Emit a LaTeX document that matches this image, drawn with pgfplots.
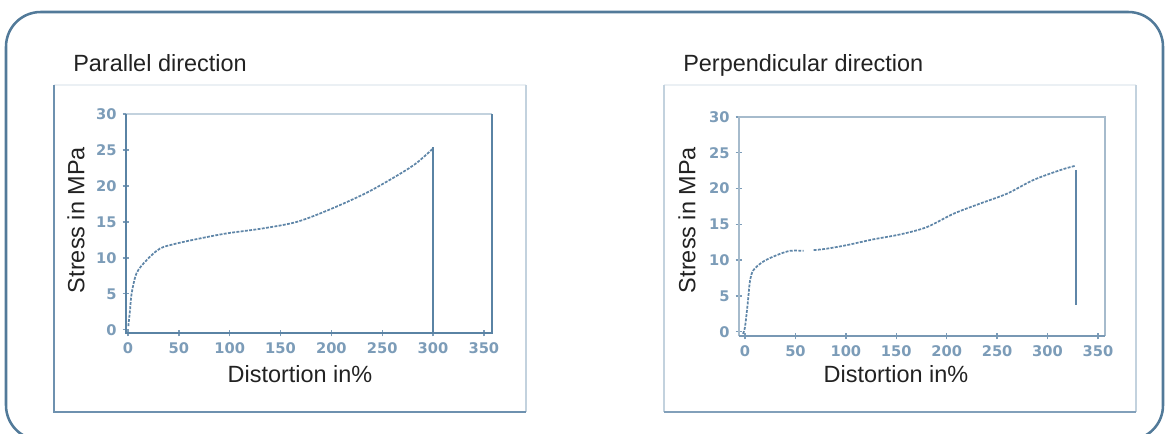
\documentclass[border=0pt]{standalone}
\usepackage{fontspec}
\setmainfont{Liberation Sans}
\newfontfamily\tickfont{DejaVu Sans}
\usepackage{pgfplots}
\pgfplotsset{compat=1.18}
\definecolor{frame}{HTML}{527A99}
\definecolor{axdark}{HTML}{5A83A4}
\definecolor{axlight}{HTML}{C3D2DE}
\definecolor{axmid}{HTML}{A6BBCC}
\definecolor{tickc}{HTML}{7C9CB8}
\definecolor{curve}{HTML}{5F86A8}
\definecolor{txt}{HTML}{222222}
\definecolor{pantop}{HTML}{EBF0F4}
\definecolor{panbot}{HTML}{6E91AF}
\definecolor{panbotr}{HTML}{82A0BA}
\definecolor{rbot}{HTML}{7898B4}
\pgfplotsset{
 stressaxis/.style={
  scale only axis, width=274.5pt, height=164.25pt, anchor=south west,
  axis line style={draw=none},
  ymax=30, ytick={0,5,...,30}, xtick={0,50,...,350},
  xtick pos=bottom, ytick pos=left,
  tick style={color=tickc, line width=1pt}, major tick length=5pt, tick align=center,
  ticklabel style={font=\tickfont\bfseries\fontsize{11pt}{12pt}\selectfont, text=tickc},
  yticklabel style={xshift=-1pt},
  xticklabel style={yshift=-1pt},
  /pgf/number format/assume math mode=true,
  clip=false,
 }
}
\begin{document}
\begin{tikzpicture}[x=0.75pt,y=0.75pt]
\clip (0,0) rectangle (1168,433);
\path[use as bounding box] (0,0) rectangle (1168,433);
% outer frame
\draw[frame, line width=1.9pt, rounded corners=26pt] (6,421) rectangle (1163,-7);
% left panel frame
\draw[pantop, line width=1.2pt] (54,348) -- (526,348);
\draw[axlight, line width=1.5pt] (526,348) -- (526,21);
\draw[panbot, line width=1.8pt] (54,348) -- (54,21) -- (526,21);
% right panel frame
\draw[pantop, line width=1.2pt] (664,348) -- (1136,348);
\draw[axlight, line width=1.5pt] (664,348) -- (664,21);
\draw[axlight, line width=1.5pt] (1136,348) -- (1136,21);
\draw[panbotr, line width=1.6pt] (664,21) -- (1136,21);
% titles and labels
\node[anchor=base west, font=\fontsize{17.6pt}{20pt}\selectfont, text=txt, inner sep=0pt] at (73,361) {Parallel direction};
\node[anchor=base west, font=\fontsize{17.6pt}{20pt}\selectfont, text=txt, inner sep=0pt] at (683,361) {Perpendicular direction};
\node[rotate=90, font=\fontsize{17.6pt}{20pt}\selectfont, text=txt, inner sep=0pt] at (76,213) {Stress in MPa};
\node[rotate=90, font=\fontsize{17.6pt}{20pt}\selectfont, text=txt, inner sep=0pt] at (687,213) {Stress in MPa};
\node[anchor=base, font=\fontsize{17.6pt}{20pt}\selectfont, text=txt, inner sep=0pt] at (300,51) {Distortion in\%};
\node[anchor=base, font=\fontsize{17.6pt}{20pt}\selectfont, text=txt, inner sep=0pt] at (896,51) {Distortion in\%};

\begin{axis}[stressaxis, at={(94.5pt,75pt)}, xmin=-2, xmax=358, ymin=-0.45]
\draw[axlight, line width=1pt] (rel axis cs:0,1) -- (rel axis cs:1,1);
\draw[axdark, line width=1.5pt] (rel axis cs:0,1) -- (rel axis cs:0,0) -- (rel axis cs:1,0) -- (rel axis cs:1,1);
\addplot[curve, line width=1.3pt, dash pattern=on 2.2pt off 1pt, smooth, tension=0.5] coordinates {
(0.3,0.5)(2,2.8)(3.6,5.1)(8.5,7.9)(18.4,9.7)(31.5,11.3)(47.9,12.0)(70.8,12.7)(97,13.4)(133,14.1)(166,15.0)(198,16.7)(234,19.0)(263,21.3)(283,23.1)(300,25.2)};
\addplot[axdark, line width=1.5pt] coordinates {(300,25.4)(300,-0.45)};
\end{axis}

\begin{axis}[stressaxis, at={(554.25pt,72.75pt)}, xmin=-6, xmax=357, ymin=-0.6]
\draw[axmid, line width=1pt] (rel axis cs:0,0) -- (rel axis cs:0,1) -- (rel axis cs:1,1) -- (rel axis cs:1,0);
\draw[rbot, line width=1.3pt] (rel axis cs:0,0) -- (rel axis cs:1,0);
\addplot[curve, line width=1.3pt, dash pattern=on 2.2pt off 1pt, smooth, tension=0.5] coordinates {
(-2,-0.3)(0,0.7)(2.3,3.5)(3.3,4.9)(5,7.2)(8.3,8.6)(18,9.8)(31.5,10.7)(44.6,11.3)(58,11.3)};
\addplot[curve, line width=1.3pt, dash pattern=on 2.2pt off 1pt, smooth, tension=0.5] coordinates {
(68,11.4)(81,11.6)(101,12.1)(127,12.9)(154,13.6)(180,14.6)(207,16.5)(233,17.9)(260,19.3)(286,21.2)(313,22.6)(328,23.2)};
\addplot[curve, line width=1.3pt] coordinates {(328,22.6)(328,3.7)};
\end{axis}
\end{tikzpicture}
\end{document}
